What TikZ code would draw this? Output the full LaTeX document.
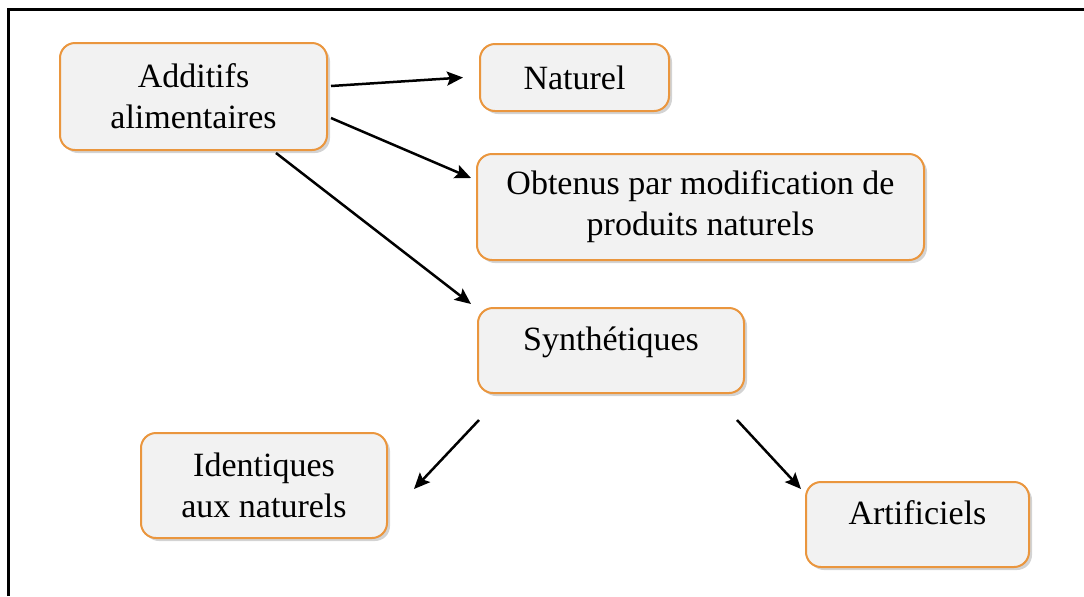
\documentclass[tikz,border=0pt]{standalone}
\usepackage{fontspec}
\setmainfont{Liberation Serif}
\usetikzlibrary{arrows.meta,shadows}

\definecolor{cadre}{RGB}{234,150,62}
\definecolor{fond}{RGB}{242,242,242}

\begin{document}
\begin{tikzpicture}[
			x=0.5pt, y=-0.5pt,
			base/.style={draw=cadre, line width=1pt, fill=fond, rounded corners=7.5pt, align=center,
				font=\fontsize{17pt}{20.5pt}\selectfont, inner sep=0pt,
				drop shadow={shadow xshift=1.5pt, shadow yshift=-1.5pt, opacity=0.35, fill=gray}},
			haut/.style={base, text height=8pt, text depth=8pt},
			fleche/.style={-{Stealth[length=8pt, width=7pt, inset=1.5pt]}, line width=1.25pt},
		]
		\useasboundingbox (0,0) rectangle (1084,596);
		\draw[line width=1.5pt] (8,596) -- (8,9) -- (1084,9);

		\node[base, minimum width=133.5pt, minimum height=53.5pt] (additifs) at (193.5,96.5) {Additifs\\alimentaires};
		\node[base, minimum width=94.5pt, minimum height=33.5pt] (naturel) at (574.5,77.5) {Naturel};
		\node[base, minimum width=223.5pt, minimum height=53pt] (obtenus) at (700.5,207) {Obtenus par modification de\\produits naturels};
		\node[haut, minimum width=133pt, minimum height=42.5pt] (synth) at (611,350.5) {Synthétiques};
		\node[base, minimum width=123pt, minimum height=52.5pt] (identiques) at (264,485.5) {Identiques\\aux naturels};
		\node[haut, minimum width=111.5pt, minimum height=42.5pt] (artificiels) at (917.5,524.5) {Artificiels};

		\draw[fleche] ([xshift=1.5pt, yshift=5.25pt]additifs.east) -- ([xshift=-8pt]naturel.west);
		\draw[fleche] ([xshift=1.5pt, yshift=-10.75pt]additifs.east) -- ([xshift=-2.5pt, yshift=14.5pt]obtenus.west);
		\draw[fleche] ([xshift=41.25pt, yshift=-1pt]additifs.south) -- ([xshift=-3pt, yshift=1.5pt]synth.north west);
		\draw[fleche] ([xshift=1pt, yshift=-13pt]synth.south west) -- ([xshift=13pt, yshift=-1.75pt]identiques.east);
		\draw[fleche] ([xshift=-4pt, yshift=-13pt]synth.south east) -- ([xshift=-2pt, yshift=-4pt]artificiels.north west);
		
		\end{tikzpicture}
\end{document}
